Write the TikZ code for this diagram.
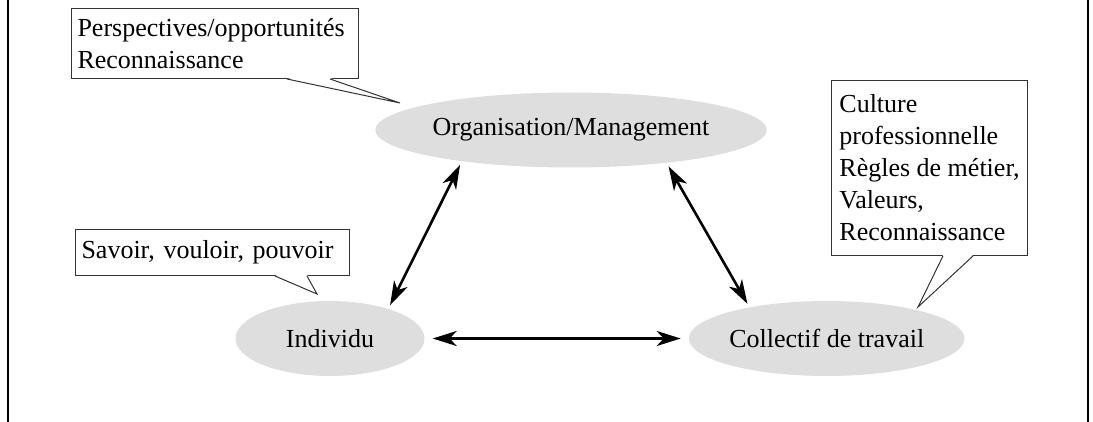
\documentclass[tikz,border=0pt]{standalone}
\usepackage{fontspec}
\setmainfont{Liberation Serif}
\usepackage{tikz}
\usetikzlibrary{shapes.geometric, arrows.meta, positioning}
\definecolor{ellgray}{RGB}{222,222,222}
\tikzstyle{ell} = [ellipse, fill=ellgray, minimum height=75pt, inner sep=0pt,
    font=\fontsize{26pt}{32pt}\selectfont]
\tikzstyle{note} = [draw=black!80, line width=1pt, fill=white, anchor=north west,
    align=left, inner xsep=6pt, inner ysep=0pt, font=\fontsize{26pt}{32pt}\selectfont]
\tikzstyle{noteline} = [draw=black!80, line width=1pt]
\tikzstyle{arr} = [{Stealth[length=24pt, width=15pt, inset=7pt]}-{Stealth[length=24pt, width=15pt, inset=7pt]},
    line width=2.6pt, shorten <=4pt, shorten >=4pt]

\begin{document}
\begin{tikzpicture}[x=1pt, y=-1pt]
  \useasboundingbox (0,0) rectangle (1093,422);
  % frame
  \draw[line width=2.6pt] (8,0) -- (8,422);
  \draw[line width=2.6pt] (1088,0) -- (1088,422);

  % Ellipses
  \node[ell, minimum width=377pt] (org) at (571,130) {Organisation/Management};
  \node[ell, minimum width=189pt] (ind) at (330,338.5) {Individu};
  \node[ell, minimum width=265pt, right=264pt of ind] (col) {Collectif de travail};

  % Notes
  \node[note, text width=275pt, minimum height=70pt] (persp) at (71,8)
    {Perspectives/opportunités\\Reconnaissance};
  \node[note, text width=262pt, minimum height=46pt] (savoir) at (75,229)
    {Savoir, vouloir, pouvoir};
  \node[note, inner xsep=0pt, minimum width=196pt, minimum height=175pt] (culture) at (831,80)
    {Culture\\professionnelle\\Règles de métier,\\Valeurs,\\Reconnaissance};

  % Note tails
  \coordinate (tpersp) at (400,103);
  \coordinate (tsavoir) at (317,294);
  \coordinate (tculture) at (918,307);
  \fill[white] ([xshift=216pt, yshift=1pt]persp.south west) -- (tpersp) -- ([xshift=259pt, yshift=1pt]persp.south west) -- cycle;
  \draw[noteline] ([xshift=216pt]persp.south west) -- (tpersp) -- ([xshift=259pt]persp.south west);
  \fill[white] ([xshift=200pt, yshift=1pt]savoir.south west) -- (tsavoir) -- ([xshift=232pt, yshift=1pt]savoir.south west) -- cycle;
  \draw[noteline] ([xshift=200pt]savoir.south west) -- (tsavoir) -- ([xshift=232pt]savoir.south west);
  \fill[white] ([xshift=112pt, yshift=1pt]culture.south west) -- (tculture) -- ([xshift=142pt, yshift=1pt]culture.south west) -- cycle;
  \draw[noteline] ([xshift=112pt]culture.south west) -- (tculture) -- ([xshift=142pt]culture.south west);

  % Arrows
  \draw[arr] (org.196.5) -- (ind.27);
  \draw[arr] (org.341.7) -- (col.158.8);
  \draw[arr, shorten <=8pt, shorten >=8pt] (ind) -- (col);
\end{tikzpicture}
\end{document}
